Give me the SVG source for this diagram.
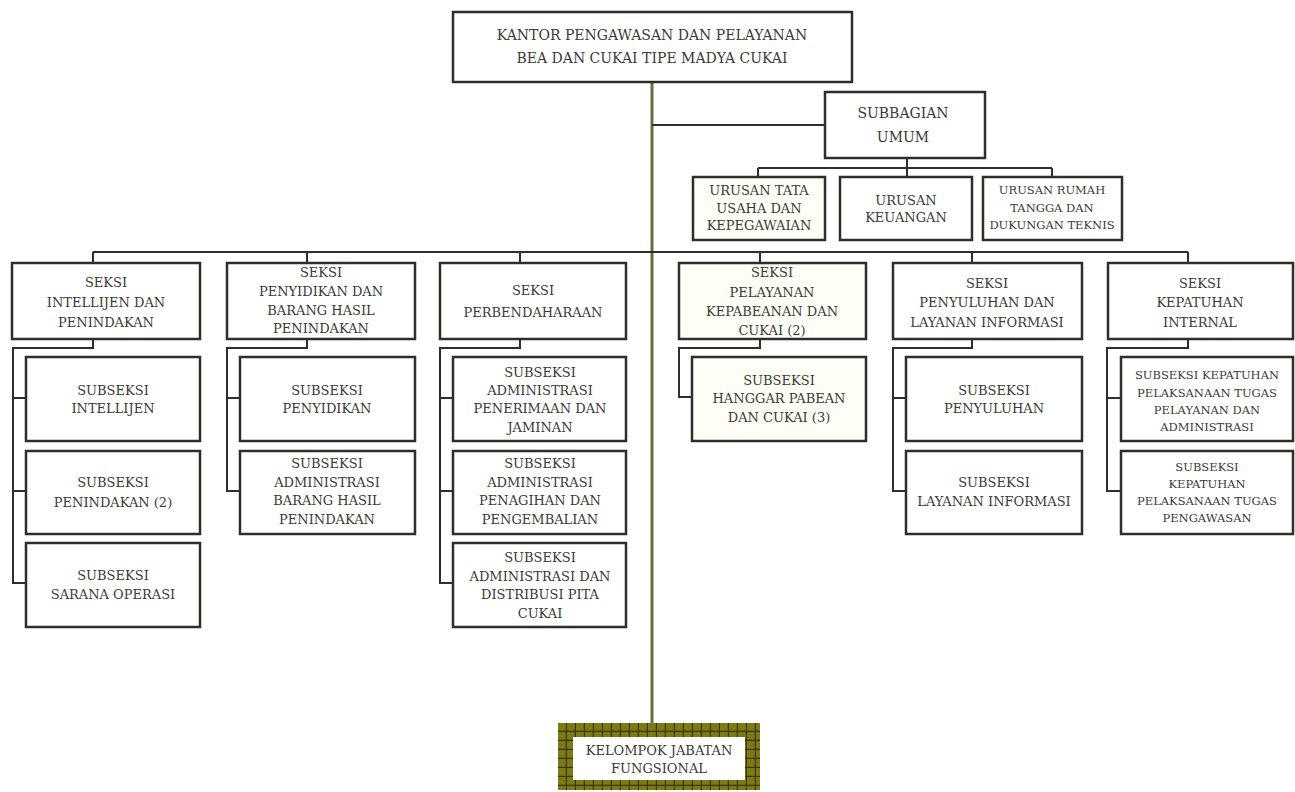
<svg xmlns="http://www.w3.org/2000/svg" width="1295" height="792" viewBox="0 0 1295 792">
<style>
.box{fill:#ffffff;stroke:#2e2e2a;stroke-width:2.5}
.cream{fill:#fefef7}
.t{font-family:"DejaVu Serif","Liberation Serif",serif;font-size:13px;fill:#3a3a36;text-anchor:middle;dominant-baseline:central}
.big{font-size:14px}
.sm{font-size:11.5px}
.ln{fill:none;stroke:#2e2e2a;stroke-width:2}
.trunk{fill:none;stroke:#6a6a44;stroke-width:3}
</style>
<defs>
<pattern id="grid" x="558" y="723" width="9" height="9" patternUnits="userSpaceOnUse">
<rect width="9" height="9" fill="#7c7a14"/>
<path d="M8.4 0V9M0 8.4H9" stroke="#3a3800" stroke-width="1.2"/>
</pattern>
</defs>

<g id="connectors">
<path class="trunk" d="M652 82V723"/>
<path class="ln" d="M652 125H825"/>
<path class="ln" d="M907 158V168M758 168H1052M758 168V177M907 168V177M1052 168V177"/>
<path class="ln" d="M93 252H1188M93 252V263M307 252V263M520 252V263M760 252V263M972 252V263M1188 252V263"/>
<path class="ln" d="M93 339V348H13V583H26M13 398H26M13 491H26"/>
<path class="ln" d="M307 339V348H227V491H240M227 398H240"/>
<path class="ln" d="M520 339V348H440V583H453M440 398H453M440 491H453"/>
<path class="ln" d="M760 339V348H679V397H692"/>
<path class="ln" d="M972 339V348H893V491H906M893 398H906"/>
<path class="ln" d="M1188 339V348H1107V491H1121M1107 398H1121"/>
</g>

<g id="kantor">
<rect class="box" x="453" y="12" width="399" height="70"/>
<text class="t big" x="652" y="35">KANTOR PENGAWASAN DAN PELAYANAN</text>
<text class="t big" x="652" y="58">BEA DAN CUKAI TIPE MADYA CUKAI</text>
</g>

<g id="subbagian-umum">
<rect class="box" x="825" y="92" width="160" height="66"/>
<text class="t big" x="903" y="113">SUBBAGIAN</text>
<text class="t big" x="903" y="137">UMUM</text>
</g>

<g id="urusan-tata-usaha">
<rect class="box cream" x="693" y="177" width="132" height="63"/>
<text class="t" x="759" y="190">URUSAN TATA</text>
<text class="t" x="759" y="208">USAHA DAN</text>
<text class="t" x="759" y="225">KEPEGAWAIAN</text>
</g>

<g id="urusan-keuangan">
<rect class="box" x="840" y="177" width="132" height="63"/>
<text class="t" x="906" y="200">URUSAN</text>
<text class="t" x="906" y="217">KEUANGAN</text>
</g>

<g id="urusan-rumah-tangga">
<rect class="box" x="983" y="177" width="139" height="63"/>
<text class="t sm" x="1052" y="190">URUSAN RUMAH</text>
<text class="t sm" x="1052" y="208">TANGGA DAN</text>
<text class="t sm" x="1052" y="225">DUKUNGAN TEKNIS</text>
</g>

<g id="seksi-intelijen">
<rect class="box" x="12" y="263" width="188" height="76"/>
<text class="t" x="106" y="282">SEKSI</text>
<text class="t" x="106" y="302">INTELLIJEN DAN</text>
<text class="t" x="106" y="322">PENINDAKAN</text>
</g>

<g id="seksi-penyidikan">
<rect class="box" x="227" y="263" width="188" height="76"/>
<text class="t" x="321" y="272">SEKSI</text>
<text class="t" x="321" y="291">PENYIDIKAN DAN</text>
<text class="t" x="321" y="310">BARANG HASIL</text>
<text class="t" x="321" y="328">PENINDAKAN</text>
</g>

<g id="seksi-perbendaharaan">
<rect class="box" x="440" y="263" width="186" height="76"/>
<text class="t" x="533" y="290">SEKSI</text>
<text class="t" x="533" y="312">PERBENDAHARAAN</text>
</g>

<g id="seksi-pelayanan">
<rect class="box cream" x="679" y="263" width="187" height="76"/>
<text class="t" x="772" y="272">SEKSI</text>
<text class="t" x="772" y="292">PELAYANAN</text>
<text class="t" x="772" y="311">KEPABEANAN DAN</text>
<text class="t" x="772" y="330">CUKAI (2)</text>
</g>

<g id="seksi-penyuluhan">
<rect class="box" x="893" y="263" width="189" height="76"/>
<text class="t" x="987" y="283">SEKSI</text>
<text class="t" x="987" y="302">PENYULUHAN DAN</text>
<text class="t" x="987" y="322">LAYANAN INFORMASI</text>
</g>

<g id="seksi-kepatuhan">
<rect class="box" x="1108" y="263" width="185" height="76"/>
<text class="t" x="1200" y="283">SEKSI</text>
<text class="t" x="1200" y="302">KEPATUHAN</text>
<text class="t" x="1200" y="322">INTERNAL</text>
</g>

<g id="subseksi-intelijen">
<rect class="box" x="26" y="357" width="174" height="84"/>
<text class="t" x="113" y="390">SUBSEKSI</text>
<text class="t" x="113" y="408">INTELLIJEN</text>
</g>

<g id="subseksi-penindakan">
<rect class="box" x="26" y="451" width="174" height="83"/>
<text class="t" x="113" y="482">SUBSEKSI</text>
<text class="t" x="113" y="502">PENINDAKAN (2)</text>
</g>

<g id="subseksi-sarana-operasi">
<rect class="box" x="26" y="543" width="174" height="84"/>
<text class="t" x="113" y="575">SUBSEKSI</text>
<text class="t" x="113" y="594">SARANA OPERASI</text>
</g>

<g id="subseksi-penyidikan">
<rect class="box" x="240" y="357" width="175" height="84"/>
<text class="t" x="327" y="390">SUBSEKSI</text>
<text class="t" x="327" y="408">PENYIDIKAN</text>
</g>

<g id="subseksi-administrasi-barang">
<rect class="box" x="240" y="451" width="175" height="83"/>
<text class="t" x="327" y="463">SUBSEKSI</text>
<text class="t" x="327" y="482">ADMINISTRASI</text>
<text class="t" x="327" y="500">BARANG HASIL</text>
<text class="t" x="327" y="519">PENINDAKAN</text>
</g>

<g id="subseksi-penerimaan">
<rect class="box" x="453" y="357" width="173" height="84"/>
<text class="t" x="540" y="372">SUBSEKSI</text>
<text class="t" x="540" y="390">ADMINISTRASI</text>
<text class="t" x="540" y="408">PENERIMAAN DAN</text>
<text class="t" x="540" y="427">JAMINAN</text>
</g>

<g id="subseksi-penagihan">
<rect class="box" x="453" y="451" width="173" height="83"/>
<text class="t" x="540" y="463">SUBSEKSI</text>
<text class="t" x="540" y="482">ADMINISTRASI</text>
<text class="t" x="540" y="500">PENAGIHAN DAN</text>
<text class="t" x="540" y="519">PENGEMBALIAN</text>
</g>

<g id="subseksi-pita-cukai">
<rect class="box" x="453" y="543" width="173" height="84"/>
<text class="t" x="540" y="557">SUBSEKSI</text>
<text class="t" x="540" y="576">ADMINISTRASI DAN</text>
<text class="t" x="540" y="594">DISTRIBUSI PITA</text>
<text class="t" x="540" y="613">CUKAI</text>
</g>

<g id="subseksi-hanggar">
<rect class="box cream" x="692" y="357" width="174" height="84"/>
<text class="t" x="779" y="380">SUBSEKSI</text>
<text class="t" x="779" y="398">HANGGAR PABEAN</text>
<text class="t" x="779" y="417">DAN CUKAI (3)</text>
</g>

<g id="subseksi-penyuluhan">
<rect class="box" x="906" y="357" width="176" height="84"/>
<text class="t" x="994" y="390">SUBSEKSI</text>
<text class="t" x="994" y="408">PENYULUHAN</text>
</g>

<g id="subseksi-layanan-informasi">
<rect class="box" x="906" y="451" width="176" height="83"/>
<text class="t" x="994" y="482">SUBSEKSI</text>
<text class="t" x="994" y="501">LAYANAN INFORMASI</text>
</g>

<g id="subseksi-kepatuhan-pelayanan">
<rect class="box" x="1121" y="357" width="172" height="84"/>
<text class="t sm" x="1207" y="375">SUBSEKSI KEPATUHAN</text>
<text class="t sm" x="1207" y="393">PELAKSANAAN TUGAS</text>
<text class="t sm" x="1207" y="410">PELAYANAN DAN</text>
<text class="t sm" x="1207" y="427">ADMINISTRASI</text>
</g>

<g id="subseksi-kepatuhan-pengawasan">
<rect class="box" x="1121" y="451" width="172" height="83"/>
<text class="t sm" x="1207" y="467">SUBSEKSI</text>
<text class="t sm" x="1207" y="484">KEPATUHAN</text>
<text class="t sm" x="1207" y="501">PELAKSANAAN TUGAS</text>
<text class="t sm" x="1207" y="518">PENGAWASAN</text>
</g>

<g id="kelompok-jabatan-fungsional">
<rect x="558" y="723" width="202" height="67" fill="url(#grid)"/>
<rect x="573" y="737" width="172" height="43" fill="#ffffff"/>
<text class="t" x="659" y="750">KELOMPOK JABATAN</text>
<text class="t" x="659" y="768">FUNGSIONAL</text>
</g>
</svg>
